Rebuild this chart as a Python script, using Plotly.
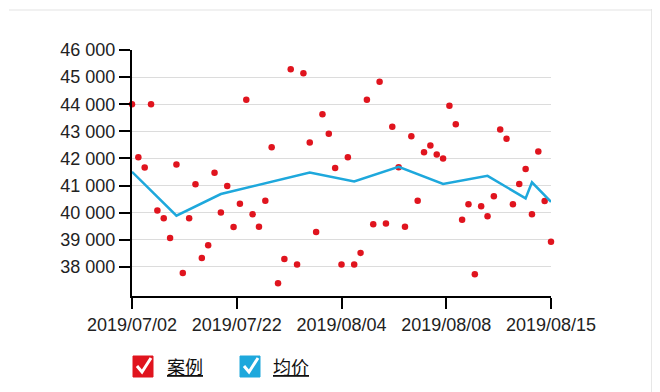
import plotly.graph_objects as go

# ---- data ----
case_prices = [44000, 42050, 41670, 44000, 40080, 39800, 39070, 41780, 37780, 39800,
               41050, 38330, 38800, 41470, 40010, 40990, 39470, 40330, 44170, 39940,
               39480, 40440, 42410, 37400, 38290, 45290, 38090, 45140, 42590, 39290,
               43630, 42910, 41650, 38090, 42050, 38090, 38520, 44170, 39580, 44830,
               39600, 43170, 41680, 39480, 42820, 40440, 42230, 42480, 42150, 42000,
               43940, 43260, 39740, 40310, 37730, 40240, 39870, 40610, 43070, 42730,
               40310, 41060, 41610, 39940, 42260, 40430, 38930]
case_idx = list(range(len(case_prices)))

avg_idx = [0, 7, 14, 28, 35, 42, 49, 56, 62, 63, 66]
avg_prices = [41510, 39890, 40690, 41480, 41150, 41690, 41060, 41360, 40530, 41120, 40400]

tick_pos = [0, 16.5, 33, 49.5, 66]
tick_labels = ["2019/07/02", "2019/07/22", "2019/08/04", "2019/08/08", "2019/08/15"]
y_ticks = [38000, 39000, 40000, 41000, 42000, 43000, 44000, 45000, 46000]
legend_names = ["案例", "均价"]
RED = "#e0141e"
BLUE = "#1ea8dc"

# page is rendered with an 8px body margin; compensate
OFF = 8
W, H = 660 - OFF, 392 - OFF
L, R, T, B = 132 - OFF, 109, 50 - OFF, 96
PW, PH = W - L - R, H - T - B


def px(x):
    # page pixel x -> paper
    return (x - OFF - L) / PW


def py(y):
    # page pixel y -> paper
    return (H - B - (y - OFF)) / PH


fig = go.Figure()
fig.add_trace(go.Scatter(x=case_idx, y=case_prices, mode="markers", name=legend_names[0],
                         marker=dict(color=RED, size=6.5, line=dict(width=0)),
                         cliponaxis=False, showlegend=False))
fig.add_trace(go.Scatter(x=avg_idx, y=avg_prices, mode="lines", name=legend_names[1],
                         line=dict(color=BLUE, width=2.5), cliponaxis=False, showlegend=False))

shapes = []
# frame on the right
shapes.append(dict(type="line", xref="paper", yref="paper", x0=px(652), x1=px(652), y0=py(9), y1=py(400),
                   line=dict(color="#cfcfcf", width=1)))
shapes.append(dict(type="line", xref="paper", yref="paper", x0=px(9), x1=px(652), y0=py(10), y1=py(10),
                   line=dict(color="#e3e3e3", width=1)))
shapes.append(dict(type="line", xref="paper", yref="paper", x0=px(655), x1=px(655), y0=py(8), y1=py(400),
                   line=dict(color="#e6e6e6", width=1)))
shapes.append(dict(type="rect", xref="paper", yref="paper", x0=px(657), x1=px(661), y0=py(8), y1=py(400),
                   fillcolor="#111111", line=dict(width=0)))

# legend boxes with check marks
for (bx, col) in [(133, RED), (240, BLUE)]:
    shapes.append(dict(type="rect", xref="paper", yref="paper", x0=px(bx), x1=px(bx + 20),
                       y0=py(356), y1=py(377), fillcolor=col, line=dict(color=col, width=1)))
    path = "M {:.4f},{:.4f} L {:.4f},{:.4f} L {:.4f},{:.4f}".format(
        px(bx + 4), py(366), px(bx + 9), py(372), px(bx + 18), py(358))
    shapes.append(dict(type="path", xref="paper", yref="paper", path=path,
                       line=dict(color="white", width=3)))

annotations = []
for (tx, name) in [(165, legend_names[0]), (271, legend_names[1])]:
    annotations.append(dict(xref="paper", yref="paper", x=px(tx), y=py(366), xanchor="left",
                            yanchor="middle", showarrow=False, text="<u>" + name + "</u>",
                            font=dict(family="Noto Sans CJK SC", size=18, color="#111111")))

fig.update_layout(
    width=W, height=H,
    margin=dict(l=L, r=R, t=T, b=B, pad=0),
    paper_bgcolor="white", plot_bgcolor="white",
    separators=". ",
    font=dict(family="Liberation Sans, Arial", size=18, color="#222222"),
    shapes=shapes, annotations=annotations,
    xaxis=dict(range=[0, 66], tickmode="array", tickvals=tick_pos, ticktext=tick_labels,
               showline=True, linecolor="black", linewidth=2, ticks="outside",
               ticklen=11, tickwidth=2, tickcolor="black", showgrid=False, zeroline=False,
               tickfont=dict(size=18, color="#222222")),
    yaxis=dict(range=[36930, 46000], tickmode="array", tickvals=y_ticks, tickformat=",d",
               showline=True, linecolor="black", linewidth=2, ticks="outside",
               ticklen=11, tickwidth=2, tickcolor="black", showgrid=True,
               gridcolor="#dcdcdc", gridwidth=1, zeroline=False,
               tickfont=dict(size=18, color="#222222")),
)

fig.write_html("out.html")
